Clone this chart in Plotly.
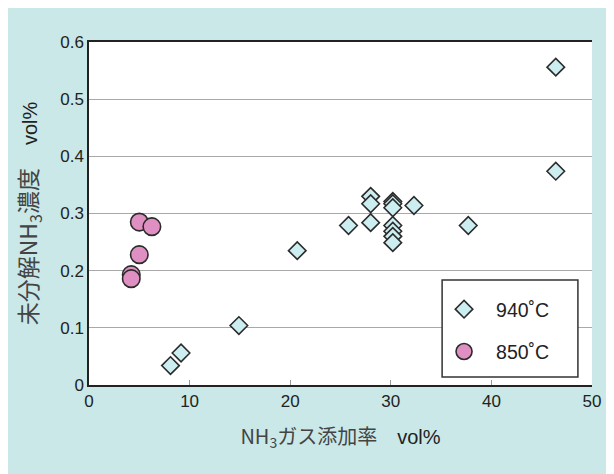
import plotly.graph_objects as go

# 940°C series
x940 = [46.4, 46.4, 28.0, 28.0, 28.0, 25.8, 30.2, 30.2, 30.2, 30.2, 30.2, 30.2, 30.2, 32.3, 37.7, 20.7, 14.9, 9.15, 8.1]
y940 = [0.556, 0.374, 0.330, 0.317, 0.284, 0.279, 0.321, 0.317, 0.310, 0.279, 0.269, 0.260, 0.249, 0.314, 0.279, 0.235, 0.104, 0.056, 0.034]
# 850°C series
x850 = [5.0, 6.25, 5.0, 4.2, 4.2]
y850 = [0.285, 0.277, 0.228, 0.193, 0.186]

names = ["940˚C", "850˚C"]
xticks = [0, 10, 20, 30, 40, 50]
yticks = [0, 0.1, 0.2, 0.3, 0.4, 0.5, 0.6]

W, H = 606, 466
L, R, T, B = 81, 22, 34, 89

fig = go.Figure()
fig.add_trace(go.Scatter(
    x=x940, y=y940, mode="markers", name=names[0], legendgroup="a",
    marker=dict(symbol="diamond", size=13.5, color="#cdeef1",
                line=dict(color="#2b2b2b", width=1.6))))
fig.add_trace(go.Scatter(
    x=x850, y=y850, mode="markers", name=names[1], legendgroup="b",
    marker=dict(symbol="circle", size=17.5, color="#e08fc2",
                line=dict(color="#2b2b2b", width=1.6))))

teal = "#c9e8e7"
vol = '<span style="font-family:Liberation Sans;font-size:20px;color:#222222">vol%</span>'

# legend frame
fig.add_shape(type="rect", xref="paper", yref="paper", layer="above",
              x0=0.702, x1=0.972, y0=0.023, y1=0.306,
              fillcolor="white", line=dict(color="#333333", width=1.5))

fig.update_layout(
    width=W, height=H,
    margin=dict(l=L, r=R, t=T, b=B),
    paper_bgcolor=teal, plot_bgcolor="white",
    font=dict(family="Liberation Sans, Arial, sans-serif", color="#222222", size=16),
    showlegend=True,
    legend=dict(x=0.682, y=0.277, xanchor="left", yanchor="top",
                bgcolor="rgba(0,0,0,0)", borderwidth=0,
                font=dict(size=19.5, color="#222222"), tracegroupgap=14,
                itemsizing="trace", itemwidth=54),
    xaxis=dict(range=[0, 50], tickvals=xticks, showgrid=False,
               showline=True, linecolor="#222222", linewidth=1.5, mirror=True,
               ticks="inside", ticklen=5, tickcolor="#999999",
               zeroline=False, tickfont=dict(size=17),
               title=dict(text="NH<sub>3</sub>ガス添加率　" + vol,
                          font=dict(family="Noto Sans CJK JP, sans-serif", size=20, color="#444444"),
                          standoff=20)),
    yaxis=dict(range=[0, 0.6], tickvals=yticks, ticktext=["0", "0.1", "0.2", "0.3", "0.4", "0.5", "0.6"],
               showgrid=True, gridcolor="#a9a9a9", gridwidth=1.2,
               showline=True, linecolor="#222222", linewidth=1.5, mirror=False,
               ticks="", zeroline=False, tickfont=dict(size=17),
               title=dict(text="未分解NH<sub>3</sub>濃度　" + vol,
                          font=dict(family="Noto Sans CJK JP, sans-serif", size=23, color="#444444"),
                          standoff=16)),
)

fig.write_html("out.html")
